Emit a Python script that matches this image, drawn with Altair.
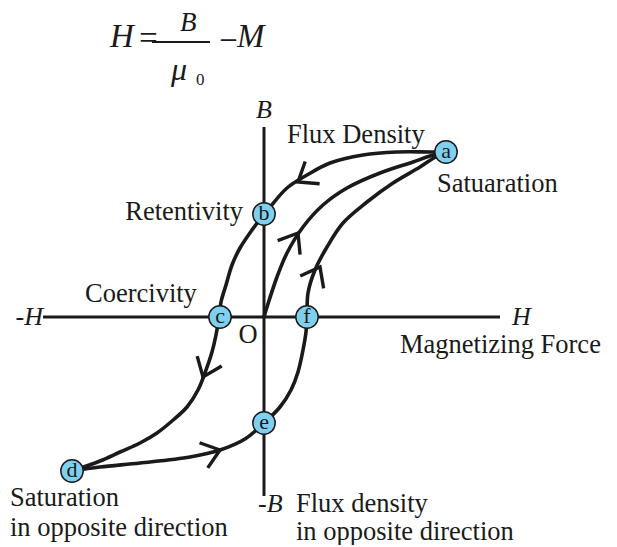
import altair as alt
import pandas as pd

# ---- data (H, B in figure units, origin at O) ----
upper_H = [1.82, 1.66, 1.33, 0.99, 0.66, 0.43, 0.23, 0.06, 0.0, -0.12, -0.24, -0.32, -0.38, -0.43, -0.45,
           -0.48, -0.52, -0.58, -0.66, -0.77, -0.92, -1.07, -1.24, -1.44, -1.64, -1.92]
upper_B = [1.65, 1.65, 1.65, 1.62, 1.54, 1.42, 1.29, 1.10, 1.03, 0.87, 0.69, 0.52, 0.32, 0.15, 0.0,
           -0.18, -0.35, -0.53, -0.73, -0.90, -1.04, -1.16, -1.26, -1.35, -1.44, -1.54]

lower_H = [-1.92, -1.64, -1.24, -0.74, -0.44, -0.19, 0.0, 0.16, 0.27, 0.34, 0.39, 0.42, 0.43,
           0.44, 0.51, 0.63, 0.79, 1.03, 1.29, 1.56, 1.73, 1.82]
lower_B = [-1.54, -1.50, -1.46, -1.40, -1.33, -1.22, -1.06, -0.90, -0.73, -0.55, -0.33, -0.15, 0.0,
           0.24, 0.47, 0.70, 0.94, 1.15, 1.34, 1.50, 1.61, 1.65]

init_H = [0.0, 0.03, 0.13, 0.23, 0.39, 0.59, 0.83, 1.16, 1.49, 1.66, 1.82]
init_B = [0.0, 0.10, 0.40, 0.64, 0.90, 1.12, 1.29, 1.44, 1.55, 1.61, 1.65]

pt_labels = ["a", "b", "c", "d", "e", "f"]
pt_H = [1.82, 0.0, -0.44, -1.92, 0.0, 0.43]
pt_B = [1.65, 1.03, 0.0, -1.54, -1.06, 0.0]

arrow_H = [0.34, 0.34, 0.56, -0.61, -0.44]
arrow_B = [1.35, 0.84, 0.50, -0.60, -1.33]
arrow_angle = [237, 32, 28, 202, 72]

axis_H = [-2.21, 0.0]
axis_B = [0.0, -1.79]
axis_H2 = [2.36, 0.0]
axis_B2 = [0.0, 1.90]

label_left = ["Flux Density", "Satuaration", "Coercivity", "Magnetizing Force", "Flux density",
              "in opposite direction", "Saturation", "in opposite direction"]
label_left_H = [0.23, 1.73, -1.79, 1.36, 0.32, 0.32, -2.54, -2.54]
label_left_B = [1.82, 1.33, 0.23, -0.28, -1.87, -2.145, -1.81, -2.11]

label_right = ["Retentivity"]
label_right_H = [-0.21]
label_right_B = [1.05]

label_center = ["O"]
label_center_H = [-0.16]
label_center_B = [-0.18]

ital_left = ["H", "-B"]
ital_left_H = [2.48, -0.06]
ital_left_B = [0.0, -1.87]
ital_right = ["-H"]
ital_right_H = [-2.21]
ital_right_B = [0.0]
ital_center = ["B"]
ital_center_H = [0.0]
ital_center_B = [2.07]

# formula H = B/mu0 - M
f_text = ["H", "=", "−", "M"]
f_H = [-1.54, -1.27, -0.47, -0.27]
f_B = [2.80, 2.78, 2.76, 2.80]
f_num_text = ["B"]
f_num_H = [-0.84]
f_num_B = [2.945]
f_den_text = ["μ"]
f_den_H = [-0.93]
f_den_B = [2.47]
f_sub_text = ["0"]
f_sub_H = [-0.68]
f_sub_B = [2.37]
frac_H = [-1.12]
frac_H2 = [-0.54]
frac_B = [2.75]

FONT = "Liberation Serif"
INK = "#1a1a1a"

xs = alt.Scale(domain=[-2.56, 3.45])
ys = alt.Scale(domain=[-2.28, 3.09])
X = lambda f: alt.X(f, type="quantitative", scale=xs, axis=None)
Y = lambda f: alt.Y(f, type="quantitative", scale=ys, axis=None)

rows = []
for name, hs, bs in [("upper", upper_H, upper_B), ("lower", lower_H, lower_B), ("init", init_H, init_B)]:
    for i, (h, b) in enumerate(zip(hs, bs)):
        rows.append({"branch": name, "i": i, "h": h, "b": b})
curves = pd.DataFrame(rows)

axes_df = pd.DataFrame({"h": axis_H, "b": axis_B, "h2": axis_H2, "b2": axis_B2})
pts = pd.DataFrame({"t": pt_labels, "h": pt_H, "b": pt_B})
arr = pd.DataFrame({"h": arrow_H, "b": arrow_B, "ang": arrow_angle})

axes_layer = alt.Chart(axes_df).mark_rule(strokeWidth=3, color=INK).encode(
    x=X("h"), y=Y("b"), x2="h2", y2="b2")

curve_layer = alt.Chart(curves).mark_line(interpolate="catmull-rom", strokeWidth=3.6, color=INK).encode(
    x=X("h"), y=Y("b"), detail="branch:N", order="i:Q")

arrow_layer = alt.Chart(arr).mark_point(
    shape="M-1,1.3L0,0L1,1.3", filled=False, stroke=INK, strokeWidth=3.4, size=700, opacity=1,
    strokeCap="butt", strokeJoin="miter").encode(
    x=X("h"), y=Y("b"), angle=alt.Angle("ang:Q", scale=None))

circle_layer = alt.Chart(pts).mark_point(
    shape="circle", filled=True, fill="#7fd0ef", stroke=INK, strokeWidth=1.5, size=500, opacity=1).encode(
    x=X("h"), y=Y("b"))

letter_layer = alt.Chart(pts).mark_text(font=FONT, fontSize=22, color=INK, baseline="middle", dy=-1).encode(
    x=X("h"), y=Y("b"), text="t:N")

def text_layer(texts, hs, bs, align, size=26.5, style="normal"):
    df = pd.DataFrame({"t": texts, "h": hs, "b": bs})
    return alt.Chart(df).mark_text(font=FONT, fontSize=size, fontStyle=style, align=align,
                                   baseline="middle", color=INK).encode(
        x=X("h"), y=Y("b"), text="t:N")

t_left = text_layer(label_left, label_left_H, label_left_B, "left")
t_right = text_layer(label_right, label_right_H, label_right_B, "right")
t_center = text_layer(label_center, label_center_H, label_center_B, "center")
t_ital_l = text_layer(ital_left, ital_left_H, ital_left_B, "left", size=26, style="italic")
t_ital_r = text_layer(ital_right, ital_right_H, ital_right_B, "right", size=26, style="italic")
t_ital_c = text_layer(ital_center, ital_center_H, ital_center_B, "center", size=26, style="italic")

f_main = text_layer(f_text, f_H, f_B, "left", size=33, style="italic")
f_num = text_layer(f_num_text, f_num_H, f_num_B, "left", size=27, style="italic")
f_den = text_layer(f_den_text, f_den_H, f_den_B, "left", size=32, style="italic")
f_sub = text_layer(f_sub_text, f_sub_H, f_sub_B, "left", size=17)
frac_df = pd.DataFrame({"h": frac_H, "h2": frac_H2, "b": frac_B})
frac_layer = alt.Chart(frac_df).mark_rule(strokeWidth=2, color=INK).encode(
    x=X("h"), x2="h2", y=Y("b"))

chart = alt.layer(
    axes_layer, curve_layer, arrow_layer, circle_layer, letter_layer,
    t_left, t_right, t_center, t_ital_l, t_ital_r, t_ital_c, f_main, f_num, f_den, f_sub, frac_layer
).properties(
    width=601, height=537, padding=0,
    autosize=alt.AutoSizeParams(type="none"),
    background="white",
).configure_view(strokeWidth=0)

chart.save("out.html", embed_options={"renderer": "svg", "actions": False})
